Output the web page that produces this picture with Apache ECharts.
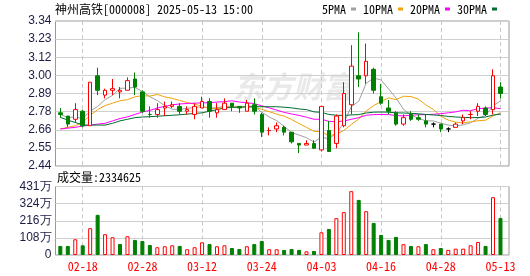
<!DOCTYPE html>
<html><head><meta charset="utf-8">
<script src="https://cdn.jsdelivr.net/npm/echarts@6/dist/echarts.min.js"></script>
<style>html,body{margin:0;padding:0;background:#fff}#c{width:530px;height:276px}</style>
</head><body><div id="c"></div>
<script>
const dates = ['02-13','02-14','02-17','02-18','02-19','02-20','02-21','02-24','02-25','02-26','02-27','02-28','03-03','03-04','03-05','03-06','03-07','03-10','03-11','03-12','03-13','03-14','03-17','03-18','03-19','03-20','03-21','03-24','03-25','03-26','03-27','03-28','03-31','04-01','04-02','04-03','04-07','04-08','04-09','04-10','04-11','04-14','04-15','04-16','04-17','04-18','04-21','04-22','04-23','04-24','04-25','04-28','04-29','04-30','05-06','05-07','05-08','05-09','05-12','05-13'];
const opens = [2.77,2.75,2.73,2.78,2.69,3.00,2.88,2.91,2.90,2.91,2.98,2.90,2.76,2.76,2.80,2.81,2.81,2.78,2.76,2.80,2.84,2.77,2.79,2.83,2.81,2.78,2.82,2.76,2.66,2.67,2.68,2.65,2.58,2.57,2.58,2.54,2.66,2.58,2.69,2.82,3.00,3.00,3.04,2.87,2.80,2.77,2.70,2.76,2.74,2.72,2.70,2.70,2.67,2.68,2.72,2.76,2.78,2.80,2.79,2.93];
const closes = [2.76,2.70,2.79,2.69,2.96,2.91,2.91,2.92,2.91,2.97,2.93,2.78,2.76,2.79,2.81,2.82,2.78,2.79,2.81,2.84,2.78,2.79,2.83,2.81,2.80,2.83,2.78,2.65,2.66,2.69,2.65,2.59,2.57,2.58,2.55,2.81,2.53,2.75,2.89,3.06,2.98,3.09,2.91,2.83,2.78,2.70,2.74,2.73,2.73,2.70,2.70,2.67,2.67,2.70,2.74,2.76,2.81,2.76,3.00,2.89];
const highs = [2.80,2.75,2.83,2.79,2.96,3.05,2.92,2.98,2.93,2.99,3.02,2.91,2.81,2.83,2.84,2.84,2.83,2.81,2.83,2.87,2.86,2.83,2.86,2.83,2.81,2.85,2.86,2.77,2.68,2.71,2.69,2.65,2.58,2.60,2.60,2.81,2.72,2.76,2.96,3.19,3.27,3.20,3.05,2.95,2.85,2.78,2.76,2.78,2.76,2.76,2.71,2.70,2.68,2.71,2.76,2.78,2.83,2.81,3.04,2.96];
const lows = [2.74,2.68,2.71,2.68,2.69,2.88,2.86,2.88,2.86,2.91,2.88,2.77,2.74,2.74,2.75,2.80,2.76,2.76,2.73,2.80,2.74,2.74,2.79,2.78,2.77,2.78,2.76,2.62,2.63,2.65,2.63,2.58,2.52,2.57,2.55,2.53,2.53,2.55,2.68,2.76,2.93,2.95,2.89,2.82,2.76,2.69,2.69,2.72,2.72,2.68,2.68,2.65,2.65,2.68,2.70,2.73,2.75,2.75,2.76,2.86];
const ma5 = [2.76,2.74,2.745,2.735,2.780,2.810,2.852,2.878,2.922,2.924,2.928,2.902,2.870,2.846,2.814,2.792,2.792,2.798,2.802,2.808,2.800,2.802,2.810,2.810,2.802,2.812,2.810,2.774,2.744,2.722,2.686,2.648,2.632,2.616,2.588,2.620,2.608,2.644,2.706,2.808,2.842,2.954,2.986,2.974,2.918,2.862,2.792,2.756,2.736,2.720,2.720,2.706,2.694,2.688,2.696,2.708,2.736,2.754,2.814,2.844];
const ma10 = [2.67,2.68,2.69,2.71,2.755,2.79,2.815,2.83,2.845,2.852,2.869,2.877,2.874,2.884,2.869,2.860,2.847,2.834,2.824,2.811,2.796,2.797,2.804,2.806,2.805,2.806,2.806,2.792,2.777,2.762,2.749,2.729,2.703,2.680,2.655,2.653,2.628,2.638,2.661,2.698,2.731,2.781,2.815,2.840,2.863,2.852,2.873,2.871,2.855,2.819,2.791,2.749,2.725,2.712,2.708,2.714,2.721,2.724,2.751,2.770];
const ma20 = [2.67,2.675,2.68,2.688,2.693,2.70,2.705,2.72,2.735,2.745,2.76,2.775,2.785,2.80,2.81,2.82,2.825,2.828,2.83,2.832,2.833,2.837,2.839,2.845,2.837,2.833,2.827,2.813,2.801,2.787,2.773,2.763,2.754,2.743,2.730,2.730,2.717,2.715,2.719,2.730,2.740,2.755,2.759,2.760,2.759,2.753,2.751,2.755,2.758,2.759,2.761,2.765,2.770,2.776,2.786,2.783,2.797,2.798,2.803,2.795];
const ma30 = [2.742,2.725,2.71,2.695,2.694,2.694,2.694,2.705,2.72,2.73,2.74,2.744,2.746,2.749,2.752,2.755,2.758,2.762,2.766,2.77,2.78,2.79,2.80,2.804,2.806,2.807,2.808,2.808,2.808,2.808,2.805,2.801,2.794,2.790,2.776,2.773,2.760,2.755,2.754,2.757,2.759,2.769,2.774,2.775,2.774,2.770,2.769,2.767,2.764,2.760,2.757,2.753,2.748,2.744,2.742,2.740,2.741,2.744,2.756,2.762];
const volumes = [57,57,99,61,169,253,131,112,69,118,95,88,63,49,55,61,57,36,49,80,69,55,61,44,38,55,69,88,36,36,32,38,32,23,25,143,164,232,270,402,347,276,202,126,95,114,68,57,55,69,36,44,32,40,40,61,82,57,364,233.4625];
const volUp = [0,0,1,0,1,0,1,1,0,1,0,0,0,1,1,1,0,1,1,1,0,1,1,0,0,1,0,0,1,1,0,0,0,1,0,1,0,1,1,1,0,1,0,0,0,0,1,0,1,0,1,0,1,1,1,1,1,0,1,0];
const priceTicks = ['2.44','2.55','2.66','2.78','2.89','3.00','3.12','3.23','3.34'];
const volTicks = ['0','108万','216万','324万','431万'];
const labelIdx = ['02-18','02-28','03-12','03-24','04-03','04-16','04-28','05-13'];
const titleText = '神州高铁[000008] 2025-05-13 15:00';
const volTitle = '成交量:2334625';
const maNames = ['5PMA','10PMA','20PMA','30PMA'];

// font detection
const mctx = document.createElement('canvas').getContext('2d');
mctx.font = '12px "Noto Sans Mono CJK SC", serif';
const monoOK = Math.abs(mctx.measureText('5PMA').width - 24) < 1.5;
const SIM = monoOK ? '"Noto Sans Mono CJK SC"' : '"Noto Sans CJK SC"';

const RED = '#ff0000', GREEN = '#008000';
const candleData = dates.map((d, i) => {
  const item = { value: [opens[i], closes[i], lows[i], highs[i]] };
  if (opens[i] === closes[i] && i > 0 && closes[i - 1] === closes[i]) {
    item.itemStyle = { color: '#000', color0: '#000', borderColor: '#000', borderColor0: '#000' };
  }
  return item;
});
const volData = volumes.map((v, i) => ({
  value: v,
  itemStyle: volUp[i] ? { color: '#fff', borderColor: RED, borderWidth: 1 } : { color: GREEN, borderColor: GREEN, borderWidth: 1 }
}));
const isLabel = (idx) => labelIdx.indexOf(dates[idx]) >= 0;

const L = 55.5, FR = 21, DL = 56.6, DW = 447.6;
const PT = 21, PH = 145, VT = 186.5, VH = 68.5;
const splitDash = { show: true, alignWithLabel: true, interval: (i) => isLabel(i), lineStyle: { color: '#c8c8c8', type: [4, 3], width: 1 } };
const ylab = { color: '#1c1c44', fontSize: 12, fontFamily: 'Liberation Sans, Arial', margin: 4 };

const chart = echarts.init(document.getElementById('c'), null, { renderer: 'canvas' });
chart.setOption({
  animation: false,
  backgroundColor: '#fff',
  title: [
    { text: titleText, left: 55, top: 3, padding: 0, textStyle: { fontSize: 12, fontWeight: 'normal', color: '#000', fontFamily: SIM } },
    { text: volTitle, left: 57, top: 171, padding: 0, textStyle: { fontSize: 12, fontWeight: 'normal', color: '#000', fontFamily: SIM } }
  ],
  legend: {
    data: maNames, right: 33, top: 3, padding: 0, itemWidth: 5, itemHeight: 3, itemGap: 7, align: 'right', icon: 'rect', selectedMode: false,
    textStyle: { fontSize: 12, color: '#000', fontFamily: SIM }
  },
  graphic: [{
    type: 'text', left: 233, top: 72, z: -10, silent: true,
    style: { text: '东方财富', font: 'bold italic 30px "Noto Sans CJK SC"', fill: '#e9e9e9' }
  }],
  grid: [
    { left: L, right: FR, top: PT, height: PH, show: true, borderColor: '#999', borderWidth: 1, backgroundColor: 'transparent' },
    { left: DL, width: DW, top: PT, height: PH },
    { left: L, right: FR, top: VT, height: VH, show: true, borderColor: '#999', borderWidth: 1, backgroundColor: 'transparent' },
    { left: DL, width: DW, top: VT, height: VH }
  ],
  xAxis: [
    { gridIndex: 0, type: 'value', show: false, min: 0, max: 1 },
    { gridIndex: 1, type: 'category', data: dates, boundaryGap: true, axisLine: { show: false }, axisTick: { show: false }, axisLabel: { show: false }, splitLine: splitDash },
    { gridIndex: 2, type: 'value', show: false, min: 0, max: 1 },
    { gridIndex: 3, type: 'category', data: dates, boundaryGap: true, axisLine: { show: false }, axisTick: { show: false },
      axisLabel: { show: true, interval: (i) => isLabel(i), color: RED, fontSize: 12, fontFamily: SIM, margin: 5 }, splitLine: splitDash }
  ],
  yAxis: [
    { gridIndex: 0, type: 'value', min: 2.44, max: 3.34, interval: 0.1125, axisLine: { show: false }, axisTick: { show: false },
      axisLabel: Object.assign({ formatter: (v, i) => priceTicks[i] }, ylab), splitLine: { show: true, lineStyle: { color: '#d0d0d0', width: 1 } } },
    { gridIndex: 1, type: 'value', min: 2.44, max: 3.34, show: false, splitLine: { show: false } },
    { gridIndex: 2, type: 'value', min: 0, max: 431.4, interval: 107.85, axisLine: { show: false }, axisTick: { show: false },
      axisLabel: Object.assign({ formatter: (v, i) => volTicks[i] }, ylab), splitLine: { show: true, lineStyle: { color: '#d0d0d0', width: 1 } } },
    { gridIndex: 3, type: 'value', min: 0, max: 431.4, show: false, splitLine: { show: false } }
  ],
  series: [
    { name: '5PMA', type: 'line', xAxisIndex: 1, yAxisIndex: 1, data: ma5, symbol: 'none', z: 3, lineStyle: { width: 1, color: '#a0a0a0' }, itemStyle: { color: '#a0a0a0' } },
    { name: '10PMA', type: 'line', xAxisIndex: 1, yAxisIndex: 1, data: ma10, symbol: 'none', z: 3, lineStyle: { width: 1, color: '#f0a30a' }, itemStyle: { color: '#f0a30a' } },
    { name: '20PMA', type: 'line', xAxisIndex: 1, yAxisIndex: 1, data: ma20, symbol: 'none', z: 3, lineStyle: { width: 1, color: '#ff00ff' }, itemStyle: { color: '#ff00ff' } },
    { name: '30PMA', type: 'line', xAxisIndex: 1, yAxisIndex: 1, data: ma30, symbol: 'none', z: 3, lineStyle: { width: 1, color: '#006e30' }, itemStyle: { color: '#006e30' } },
    { name: 'K', type: 'candlestick', xAxisIndex: 1, yAxisIndex: 1, data: candleData, barWidth: 4, z: 4,
      itemStyle: { color: '#fff', color0: GREEN, borderColor: RED, borderColor0: GREEN, borderWidth: 1 } },
    { name: 'VOL', type: 'bar', xAxisIndex: 3, yAxisIndex: 3, data: volData, barWidth: 4, z: 4 }
  ]
});
</script></body></html>
